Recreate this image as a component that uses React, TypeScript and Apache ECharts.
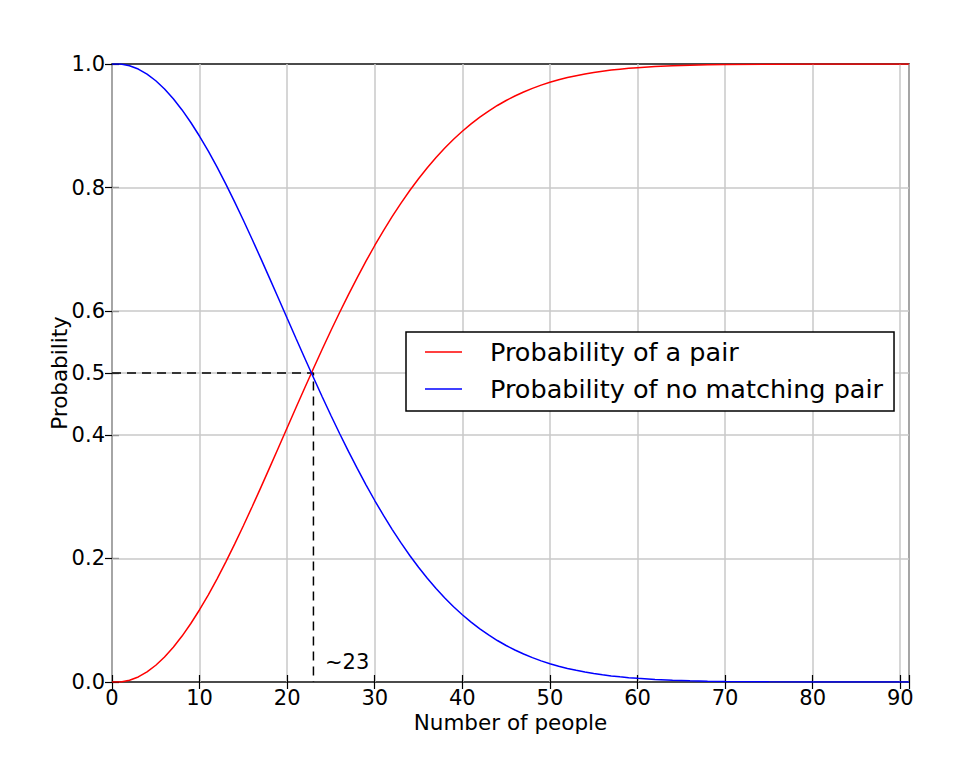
import React, { useEffect, useRef } from "react";
import * as echarts from "echarts";

const SERIES_PAIR = "Probability of a pair";
const SERIES_NONE = "Probability of no matching pair";

const people = [
  0, 1, 2, 3, 4, 5, 6, 7, 8, 9, 10, 11, 12, 13, 14, 15, 16, 17, 18, 19, 20,
  21, 22, 23, 24, 25, 26, 27, 28, 29, 30, 31, 32, 33, 34, 35, 36, 37, 38, 39,
  40, 41, 42, 43, 44, 45, 46, 47, 48, 49, 50, 51, 52, 53, 54, 55, 56, 57, 58,
  59, 60, 62, 64, 66, 68, 70, 75, 80, 85, 91,
];

const probPair = [
  0, 0, 0.00274, 0.0082, 0.01636, 0.02714, 0.04046, 0.05624, 0.07434, 0.09462,
  0.11695, 0.14114, 0.16702, 0.19441, 0.2231, 0.2529, 0.2836, 0.31501, 0.34691,
  0.37912, 0.41144, 0.44369, 0.4757, 0.5073, 0.53834, 0.5687, 0.59824, 0.62686,
  0.65446, 0.68097, 0.70632, 0.73045, 0.75335, 0.77497, 0.79532, 0.81438,
  0.83218, 0.84873, 0.86407, 0.87822, 0.89123, 0.90315, 0.91403, 0.92392,
  0.93289, 0.94098, 0.94825, 0.95477, 0.9606, 0.96578, 0.97037, 0.97443,
  0.97801, 0.98114, 0.98388, 0.98626, 0.98833, 0.99012, 0.99167, 0.99299,
  0.99412, 0.99591, 0.99719, 0.9981, 0.99873, 0.99916, 0.99972, 0.99991,
  0.99998, 1.0,
];

const probNoMatch = [
  1, 1, 0.99726, 0.9918, 0.98364, 0.97286, 0.95954, 0.94376, 0.92566, 0.90538,
  0.88305, 0.85886, 0.83298, 0.80559, 0.7769, 0.7471, 0.7164, 0.68499, 0.65309,
  0.62088, 0.58856, 0.55631, 0.5243, 0.4927, 0.46166, 0.4313, 0.40176, 0.37314,
  0.34554, 0.31903, 0.29368, 0.26955, 0.24665, 0.22503, 0.20468, 0.18562,
  0.16782, 0.15127, 0.13593, 0.12178, 0.10877, 0.09685, 0.08597, 0.07608,
  0.06711, 0.05902, 0.05175, 0.04523, 0.0394, 0.03422, 0.02963, 0.02557,
  0.02199, 0.01886, 0.01612, 0.01374, 0.01167, 0.00988, 0.00833, 0.00701,
  0.00588, 0.00409, 0.00281, 0.0019, 0.00127, 0.00084, 0.00028, 0.00009,
  0.00002, 0,
];

const yTicks = [0, 0.2, 0.4, 0.5, 0.6, 0.8, 1.0];
const yGridLines = [0.2, 0.4, 0.5, 0.6, 0.8];
const crossX = 23;
const crossY = 0.5;
const crossLabel = "~23";

const X_MIN = 0;
const X_MAX = 91;
const X_STEP = 10;

const FONT = "DejaVu Sans";

export default function App() {
  const ref = useRef<HTMLDivElement>(null);

  useEffect(() => {
    document.body.style.margin = "0";
    if (!ref.current) return;
    const chart = echarts.init(ref.current, undefined, { renderer: "svg" });

    const tickStyle = { inside: true, length: 7, lineStyle: { color: "#000", width: 1.2 } };

    chart.setOption({
      animation: false,
      backgroundColor: "#fff",
      textStyle: { fontFamily: FONT },
      grid: {
        left: 112,
        right: 71,
        top: 64,
        bottom: 97,
        show: true,
        borderColor: "#111",
        borderWidth: 1.6,
        backgroundColor: "transparent",
      },
      legend: {
        data: [SERIES_PAIR, SERIES_NONE],
        orient: "vertical",
        left: 406,
        top: 332,
        padding: [6, 11, 8, 19],
        itemGap: 9,
        itemWidth: 37,
        itemHeight: 1.6,
        icon: "rect",
        borderColor: "#000",
        borderWidth: 1.5,
        borderRadius: 0,
        backgroundColor: "#fff",
        textStyle: {
          fontFamily: FONT,
          fontSize: 25.5,
          color: "#000",
          lineHeight: 28,
          padding: [0, 0, 0, 23],
        },
      },
      xAxis: [
        {
          type: "value",
          min: X_MIN,
          max: X_MAX,
          interval: X_STEP,
          name: "Number of people",
          nameLocation: "middle",
          nameGap: 29,
          nameMoveOverlap: false,
          nameTextStyle: { fontFamily: FONT, fontSize: 21.5, color: "#000" },
          axisLine: { show: false },
          axisTick: tickStyle,
          axisLabel: {
            fontFamily: FONT,
            fontSize: 21,
            color: "#000",
            margin: 5,
            formatter: (v: number) => (v % X_STEP === 0 ? String(v) : ""),
          },
          splitLine: { show: true, lineStyle: { color: "#c8c8c8", width: 1.5 } },
        },
        {
          type: "value",
          position: "top",
          min: X_MIN,
          max: X_MAX,
          interval: X_STEP,
          axisLine: { show: false },
          axisTick: tickStyle,
          axisLabel: { show: false },
          splitLine: { show: false },
        },
      ],
      yAxis: [
        {
          type: "value",
          min: 0,
          max: 1,
          interval: 0.1,
          name: "Probability",
          nameLocation: "middle",
          nameGap: 42,
          nameMoveOverlap: false,
          nameTextStyle: { fontFamily: FONT, fontSize: 21.5, color: "#000" },
          axisLine: { show: false },
          axisTick: { ...tickStyle, customValues: yTicks },
          axisLabel: {
            fontFamily: FONT,
            fontSize: 21,
            color: "#000",
            margin: 7,
            customValues: yTicks,
            formatter: (v: number) => v.toFixed(1),
          },
          splitLine: { show: false },
        },
        {
          type: "value",
          position: "right",
          min: 0,
          max: 1,
          interval: 0.1,
          axisLine: { show: false },
          axisTick: { ...tickStyle, customValues: yTicks },
          axisLabel: { show: false },
          splitLine: { show: false },
        },
      ],
      series: [
        {
          name: "grid-h",
          type: "line",
          data: [],
          z: 1,
          silent: true,
          markLine: {
            silent: true,
            z: 1,
            symbol: "none",
            label: { show: false },
            lineStyle: { color: "#c8c8c8", width: 1.5, type: "solid" },
            data: yGridLines.map((v) => ({ yAxis: v })),
          },
        },
        {
          name: SERIES_PAIR,
          type: "line",
          data: people.map((n, i) => [n, probPair[i]]),
          showSymbol: false,
          smooth: false,
          z: 3,
          lineStyle: { color: "#ff0000", width: 1.5 },
          itemStyle: { color: "#ff0000" },
        },
        {
          name: SERIES_NONE,
          type: "line",
          data: people.map((n, i) => [n, probNoMatch[i]]),
          showSymbol: false,
          smooth: false,
          z: 3,
          lineStyle: { color: "#0000ff", width: 1.5 },
          itemStyle: { color: "#0000ff" },
        },
        {
          name: "crossing",
          type: "line",
          data: [
            [X_MIN, crossY],
            [crossX, crossY],
            [crossX, 0],
          ],
          showSymbol: false,
          z: 2,
          lineStyle: { color: "#000", width: 1.5, type: [9, 6] },
          markPoint: {
            symbol: "circle",
            symbolSize: 1,
            itemStyle: { color: "rgba(0,0,0,0)" },
            label: {
              show: true,
              formatter: crossLabel,
              position: "right",
              distance: 11,
              offset: [0, -20],
              fontFamily: FONT,
              fontSize: 21,
              color: "#000",
            },
            data: [{ coord: [crossX, 0] }],
          },
        },
      ],
    });

    return () => chart.dispose();
  }, []);

  return <div ref={ref} style={{ width: 980, height: 779 }} />;
}
